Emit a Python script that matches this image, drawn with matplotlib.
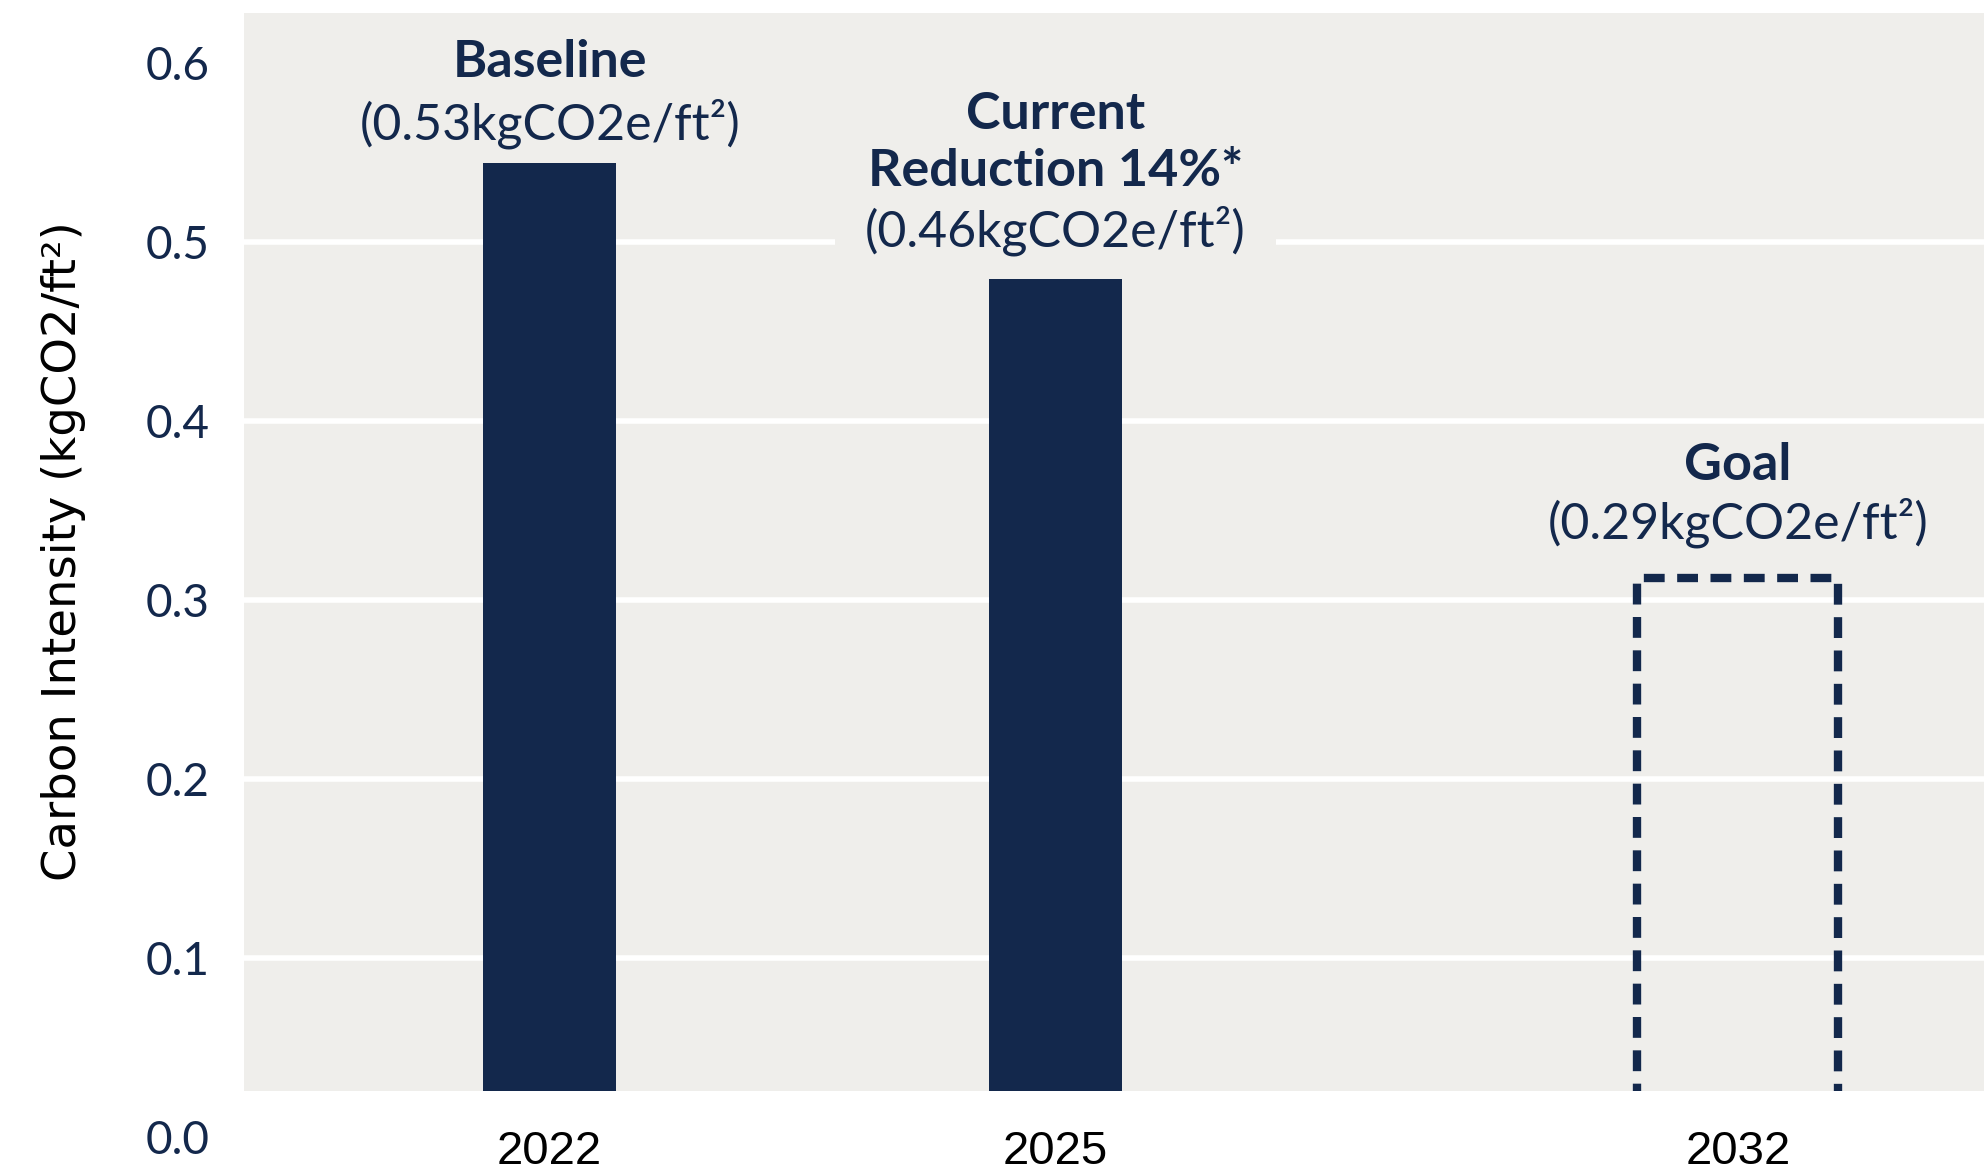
import matplotlib
matplotlib.use('Agg')
import matplotlib.pyplot as plt

# chart data
years = ['2022', '2025', '2032']
intensity = [0.544, 0.479, 0.312]
headers = ['Baseline', 'Current\nReduction 14%*', 'Goal']
sublabels = ['(0.53kgCO2e/ft²)', '(0.46kgCO2e/ft²)', '(0.29kgCO2e/ft²)']
ytick_vals = [0.0, 0.1, 0.2, 0.3, 0.4, 0.5, 0.6]
grid_vals = [0.1, 0.2, 0.3, 0.4, 0.5]

# layout
x_pos = [0, 1, 2.35]
header_y = [0.600, 0.555, 0.375]
sub_y = [0.566, 0.506, 0.343]

navy = '#13284c'
bg = '#efeeeb'
plt.rcParams['lines.scale_dashes'] = False

fig = plt.figure(figsize=(19.84, 11.73), dpi=100)
ax = fig.add_axes([0.123, 0.0308, 0.877, 0.9585])
ax.set_facecolor(bg)
for s in ax.spines.values():
    s.set_visible(False)

ax.bar(x_pos[:2], intensity[:2], width=0.264, color=navy, zorder=3)
ax.bar(x_pos[2], intensity[2], width=0.398, fill=False, edgecolor=navy,
       linewidth=6, linestyle=(0, (15, 9)), capstyle='butt', zorder=3)

# gridlines (none at 0.6)
for g in grid_vals:
    ax.axhline(g, color='white', linewidth=4, zorder=1)

# white strip at the bottom of the plot area
ax.axhspan(0, 0.0256, color='white', zorder=5, lw=0)

ax.set_xlim(-0.6045, 2.837)
ax.set_ylim(0, 0.628)

ax.set_yticks(ytick_vals)
ax.set_yticklabels(['%.1f' % v for v in ytick_vals], fontsize=33,
                   color=navy, family='Lato')
ax.tick_params(axis='y', length=0, pad=25)
ax.set_xticks(x_pos)
ax.set_xticklabels(years, fontsize=34, family='Liberation Sans')
ax.tick_params(axis='x', length=0, pad=-5)
ax.xaxis.set_zorder(6)

ax.set_ylabel('Carbon Intensity (kgCO2/ft²)', fontsize=33.5,
              family='DejaVu Sans', labelpad=0)
ax.yaxis.set_label_coords(-0.091, 0.521)

for i in range(3):
    ax.text(x_pos[i], header_y[i], headers[i], ha='center', va='center',
            fontsize=37.5, fontweight='bold', color=navy, family='Lato',
            linespacing=1.25, zorder=4)
    box = None
    if i == 1:
        box = dict(boxstyle='square,pad=0.6', fc=bg, ec='none')
    ax.text(x_pos[i], sub_y[i], sublabels[i], ha='center', va='center',
            fontsize=36, color=navy, family='Lato', bbox=box, zorder=2)

fig.savefig('out.png', dpi=100)
